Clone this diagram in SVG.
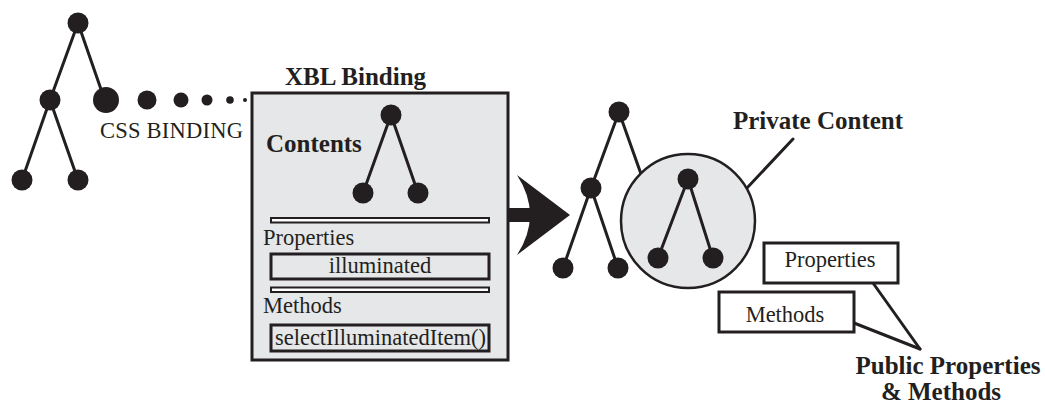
<svg xmlns="http://www.w3.org/2000/svg" width="1045" height="405" viewBox="0 0 1045 405">
  <style>
    .edge { stroke: #231f20; stroke-width: 3; fill: none; stroke-linecap: round; }
    .dot { fill: #231f20; }
    .panel { fill: #e6e7e8; stroke: #231f20; stroke-width: 3; }
    .slot { fill: #e6e7e8; stroke: #231f20; stroke-width: 3; }
    .bar { fill: #ffffff; stroke: #231f20; stroke-width: 2; }
    .box { fill: #ffffff; stroke: #231f20; stroke-width: 3; }
    .t { font-family: "Liberation Serif", "Times New Roman", serif; fill: #231f20; font-size: 22.5px; }
    .tb { font-family: "Liberation Serif", "Times New Roman", serif; fill: #231f20; font-size: 25px; font-weight: bold; }
  </style>

  <!-- bound element tree -->
  <g id="source-tree">
    <line class="edge" x1="78" y1="23" x2="50" y2="100"/>
    <line class="edge" x1="78" y1="23" x2="104" y2="98"/>
    <line class="edge" x1="50" y1="100" x2="22" y2="180"/>
    <line class="edge" x1="50" y1="100" x2="78" y2="180"/>
    <circle class="dot" cx="78" cy="23" r="10.5"/>
    <circle class="dot" cx="50" cy="100" r="10.5"/>
    <circle class="dot" cx="22" cy="180" r="10.5"/>
    <circle class="dot" cx="78" cy="180" r="10.5"/>
    <circle class="dot" cx="106" cy="100" r="13"/>
  </g>

  <!-- CSS binding trail -->
  <g id="css-binding">
    <circle class="dot" cx="147" cy="100" r="9.5"/>
    <circle class="dot" cx="181" cy="100" r="7.5"/>
    <circle class="dot" cx="207" cy="100" r="5.5"/>
    <circle class="dot" cx="230" cy="100" r="3.8"/>
    <circle class="dot" cx="245" cy="100" r="2"/>
    <text class="t" x="100" y="138" font-size="22" textLength="143">CSS BINDING</text>
  </g>

  <!-- XBL binding panel -->
  <g id="xbl-binding">
    <text class="tb" x="285" y="85">XBL Binding</text>
    <rect class="panel" x="252" y="93" width="256" height="267"/>
    <text class="tb" x="266" y="152">Contents</text>
    <line class="edge" x1="391" y1="115" x2="363" y2="193"/>
    <line class="edge" x1="391" y1="115" x2="418" y2="193"/>
    <circle class="dot" cx="391" cy="115" r="10.5"/>
    <circle class="dot" cx="363" cy="193" r="10.5"/>
    <circle class="dot" cx="418" cy="193" r="10.5"/>
    <rect class="bar" x="271" y="218" width="218" height="4.5"/>
    <text class="t" x="263" y="245">Properties</text>
    <rect class="slot" x="271" y="254" width="218" height="25"/>
    <text class="t" x="380" y="273" text-anchor="middle">illuminated</text>
    <rect class="bar" x="271" y="287.5" width="218" height="4.5"/>
    <text class="t" x="263" y="313">Methods</text>
    <rect class="slot" x="271" y="325" width="218" height="26"/>
    <text class="t" x="380.5" y="345" text-anchor="middle">selectIlluminatedItem()</text>
  </g>

  <!-- binding result arrow and callout lines -->
  <g id="connectors">
    <rect class="dot" x="507" y="208" width="26" height="14"/>
    <path class="dot" d="M517,175 L570,215 L517,255 Q543,215 517,175 Z"/>
    <line class="edge" x1="793" y1="139" x2="731" y2="205"/>
    <line class="edge" x1="873" y1="283" x2="920" y2="349" stroke-width="2.5"/>
    <line class="edge" x1="854" y1="323" x2="920" y2="349" stroke-width="2.5"/>
  </g>

  <!-- bound element tree with private content -->
  <g id="result-tree">
    <line class="edge" x1="619" y1="112" x2="591" y2="188"/>
    <line class="edge" x1="619" y1="112" x2="641" y2="174"/>
    <line class="edge" x1="591" y1="188" x2="563" y2="268"/>
    <line class="edge" x1="591" y1="188" x2="618" y2="268"/>
    <circle class="dot" cx="619" cy="112" r="10.5"/>
    <circle class="dot" cx="591" cy="188" r="10.5"/>
    <circle class="dot" cx="563" cy="268" r="10.5"/>
    <circle class="dot" cx="618" cy="268" r="10.5"/>
  </g>

  <g id="private-content">
    <circle cx="688" cy="221" r="67" fill="#e6e7e8" stroke="#231f20" stroke-width="2.5"/>
    <line class="edge" x1="688" y1="179" x2="658" y2="258"/>
    <line class="edge" x1="688" y1="179" x2="713" y2="258"/>
    <circle class="dot" cx="688" cy="179" r="10.5"/>
    <circle class="dot" cx="658" cy="258" r="10.5"/>
    <circle class="dot" cx="713" cy="258" r="10.5"/>
    <text class="tb" x="818" y="129" text-anchor="middle">Private Content</text>
  </g>

  <!-- public interface -->
  <g id="public-properties">
    <rect class="box" x="764" y="243" width="134" height="40"/>
    <text class="t" x="830" y="267" text-anchor="middle">Properties</text>
  </g>
  <g id="public-methods">
    <rect class="box" x="719" y="292" width="135" height="40"/>
    <text class="t" x="785" y="322" text-anchor="middle">Methods</text>
  </g>
  <g id="public-label">
    <text class="tb" x="948" y="374" text-anchor="middle" font-size="24">Public Properties</text>
    <text class="tb" x="941" y="400" text-anchor="middle" font-size="24">&amp; Methods</text>
  </g>
</svg>
